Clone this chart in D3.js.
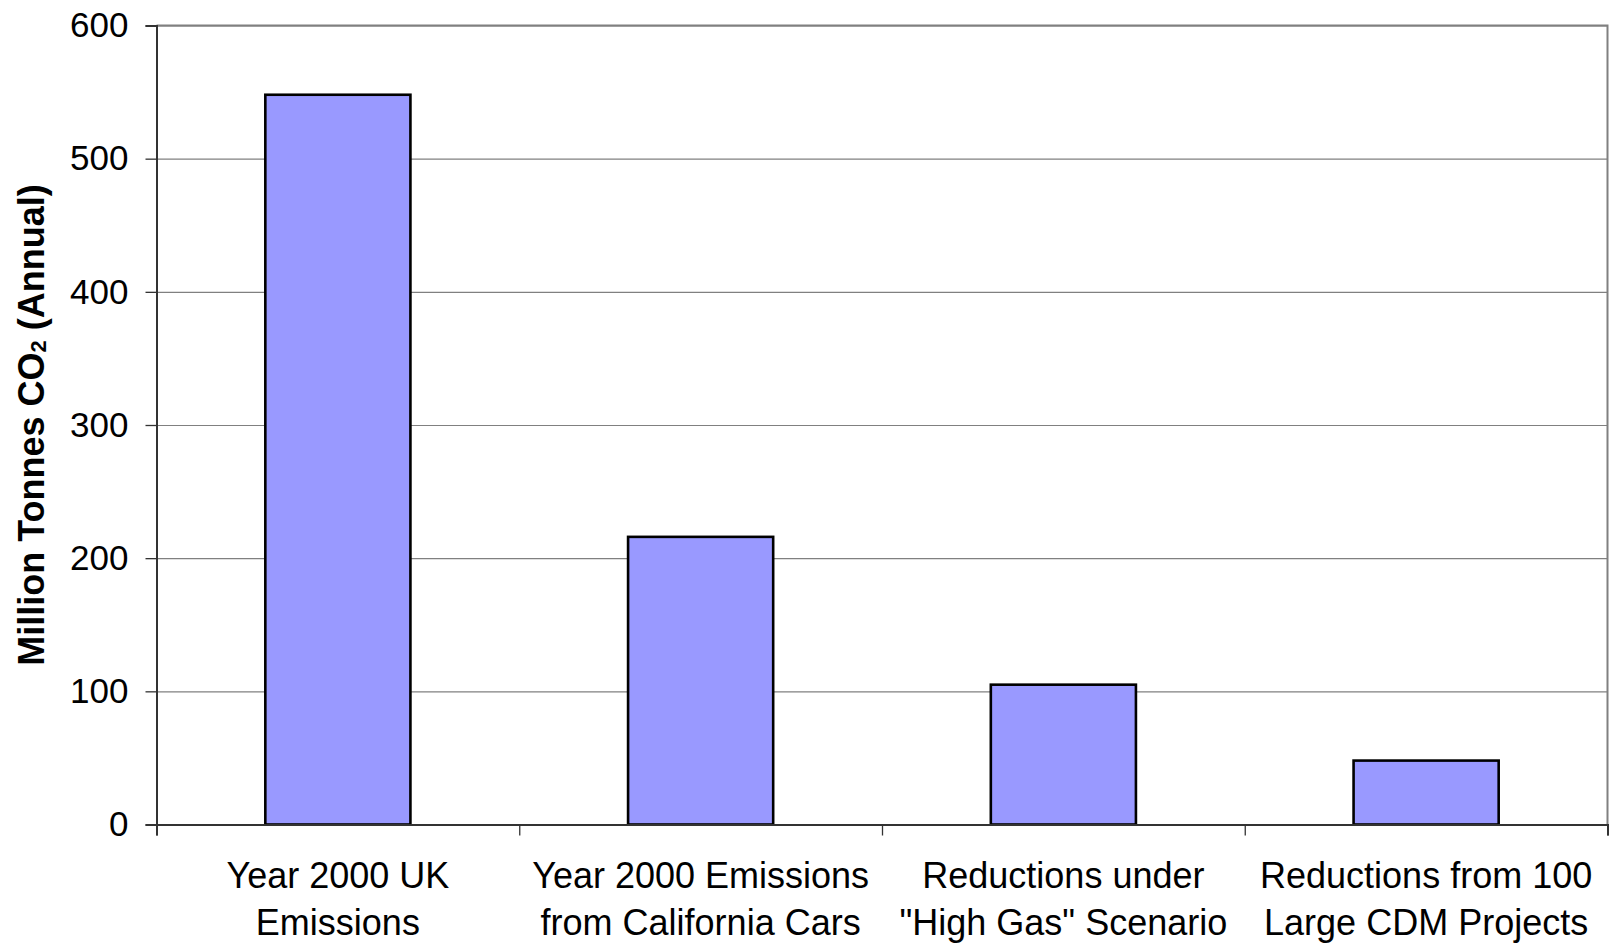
<!DOCTYPE html>
<html>
<head>
<meta charset="utf-8">
<script src="https://cdn.jsdelivr.net/npm/d3@7"></script>
<style>
  html, body { margin: 0; padding: 0; background: #ffffff; }
  svg { display: block; }
  text { font-family: "Liberation Sans", Arial, sans-serif; fill: #000; }
</style>
</head>
<body>
<svg id="chart" width="1616" height="943"></svg>
<script>
// ---- data ----
const categories = [
  ["Year 2000 UK", "Emissions"],
  ["Year 2000 Emissions", "from California Cars"],
  ["Reductions under", "\"High Gas\" Scenario"],
  ["Reductions from 100", "Large CDM Projects"]
];
const values = [548, 216, 105, 48];
const yTicks = [0, 100, 200, 300, 400, 500, 600];
const yTitleMain = "Million Tonnes CO";
const yTitleSub = "2";
const yTitleEnd = " (Annual)";

// ---- layout ----
const svg = d3.select("#chart");
const mLeft = 156.5, mRight = 1607.5, mTop = 25.5, mBottom = 824.5;
const keys = categories.map((c, i) => i);

const x = d3.scaleBand().domain(keys).range([mLeft, mRight]).paddingInner(0.6).paddingOuter(0.3);
const y = d3.scaleLinear().domain([0, 600]).range([mBottom, mTop]);

// gridlines
const grid = svg.append("g").attr("transform", `translate(${mLeft},0)`)
  .call(d3.axisLeft(y).tickValues(yTicks.filter(v => v > 0)).tickSize(-(mRight - mLeft)).tickFormat(""));
grid.select(".domain").remove();
grid.selectAll("line").attr("stroke", "#808080").attr("stroke-width", 1.2);

// plot area border (top & right)
svg.append("path")
  .attr("d", `M${mLeft},${mTop}H${mRight}V${mBottom}`)
  .attr("fill", "none").attr("stroke", "#808080").attr("stroke-width", 2);

// bars
svg.append("g").selectAll("rect").data(values).join("rect")
  .attr("x", (d, i) => x(i))
  .attr("y", d => y(d))
  .attr("width", x.bandwidth())
  .attr("height", d => y(0) - y(d))
  .attr("fill", "#9999FF")
  .attr("stroke", "#000")
  .attr("stroke-width", 2.6);

// y axis
const yAxis = svg.append("g").attr("transform", `translate(${mLeft},0)`)
  .call(d3.axisLeft(y).tickValues(yTicks).tickSize(11).tickPadding(17).tickFormat(d3.format("d")));
yAxis.select(".domain").attr("stroke", "#333").attr("stroke-width", 2);
yAxis.selectAll("line").attr("stroke", "#333").attr("stroke-width", 1.3);
yAxis.selectAll("text").attr("font-size", 35).attr("font-family", "'Liberation Sans', Arial, sans-serif").attr("fill", "#000");

// x axis (ticks at category boundaries)
const bounds = d3.range(categories.length + 1);
const xb = d3.scaleLinear().domain([0, categories.length]).range([mLeft, mRight]);
const xAxis = svg.append("g").attr("transform", `translate(0,${mBottom})`)
  .call(d3.axisBottom(xb).tickValues(bounds).tickSize(11).tickFormat(""));
xAxis.select(".domain").attr("stroke", "#333").attr("stroke-width", 2);
xAxis.selectAll("line").attr("stroke", "#333").attr("stroke-width", 1.3);

// category labels
const labels = svg.append("g").selectAll("text").data(categories).join("text")
  .attr("text-anchor", "middle")
  .attr("font-size", 36)
  .attr("x", (d, i) => x(i) + x.bandwidth() / 2)
  .attr("y", 888);
labels.each(function(d) {
  const t = d3.select(this);
  d.forEach((line, j) => {
    t.append("tspan").attr("x", t.attr("x")).attr("dy", j === 0 ? 0 : 47).text(line);
  });
});

// y title
const title = svg.append("text")
  .attr("transform", `translate(44,${(mTop + mBottom) / 2 + 0}) rotate(-90)`)
  .attr("text-anchor", "middle")
  .attr("font-size", 36)
  .attr("font-weight", "bold");
title.append("tspan").text(yTitleMain);
title.append("tspan").attr("font-size", 22).attr("dy", 2).text(yTitleSub);
title.append("tspan").attr("dy", -2).text(yTitleEnd);
</script>
</body>
</html>
